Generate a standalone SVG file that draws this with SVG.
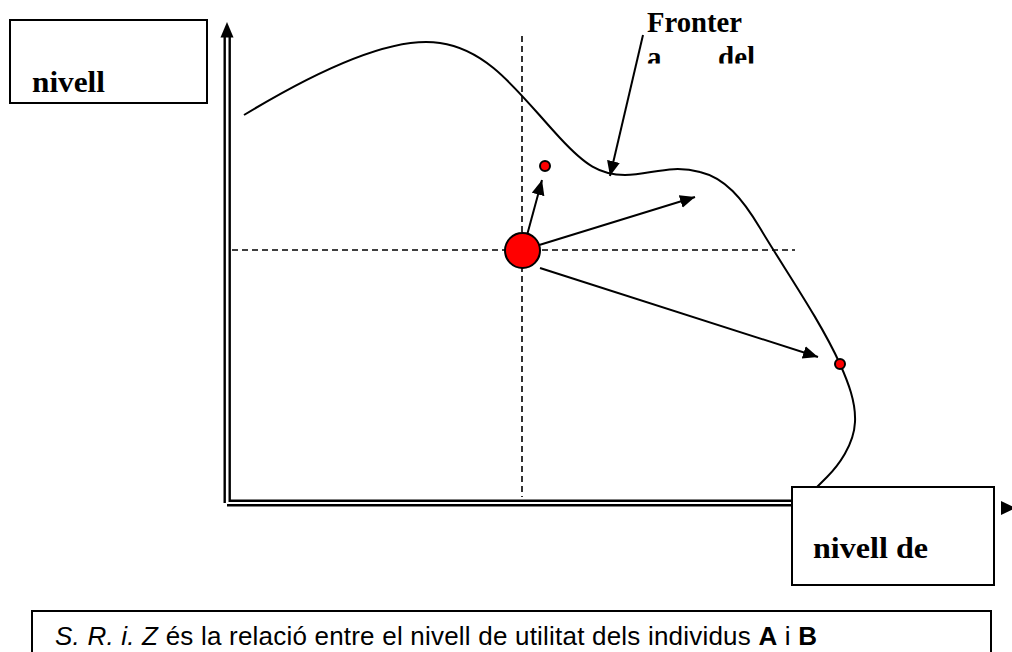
<svg xmlns="http://www.w3.org/2000/svg" width="1012" height="652" viewBox="0 0 1012 652">
<style>
.box{fill:#fff;stroke:#000;stroke-width:2}
.lbl{font-family:"Liberation Serif","Times New Roman",serif;font-weight:bold;font-size:29px;fill:#000}
.dash{stroke:#000;stroke-width:1.6;stroke-dasharray:6,4;fill:none}
.ax{stroke:#000;stroke-width:2.4;fill:none}
.arr{stroke:#000;stroke-width:2;fill:none;marker-end:url(#ah)}
.pt{fill:#ff0000;stroke:#000;stroke-width:2}
.cap{font-family:"Liberation Sans",Arial,sans-serif;font-size:26px;fill:#000}
</style>
<defs>
<marker id="ah" markerUnits="userSpaceOnUse" markerWidth="16" markerHeight="14" refX="15" refY="6.5" orient="auto">
<path d="M0,0 L15,6.5 L0,13 z" fill="#000"/>
</marker>
<clipPath id="clipFr"><rect x="600" y="40" width="200" height="23.5"/></clipPath>
</defs>
<rect width="1012" height="652" fill="#fff"/>

<g id="guides">
<line class="dash" x1="522" y1="36" x2="522" y2="497"/>
<line class="dash" x1="232" y1="250" x2="795" y2="250"/>
</g>

<g id="axes">
<line class="ax" x1="224.7" y1="35" x2="224.7" y2="503"/>
<line class="ax" x1="229.7" y1="35" x2="229.7" y2="502"/>
<line class="ax" x1="229" y1="500.8" x2="795" y2="500.8"/>
<line class="ax" x1="227" y1="505.3" x2="795" y2="505.3"/>
<polygon points="227,22 220.5,37.5 233.5,37.5" fill="#000"/>
<polygon points="1001,501 1001,515 1016,508" fill="#000"/>
</g>

<g id="frontier">
<path d="M244,115 C310,75 390,35 440,43 C490,50 520,95 560,138 C585,165 600,175 625,175 C650,175 670,164 700,172 C725,178 742,198 760,228 C785,270 820,320 840,364 C848,382 856,402 855,422 C854,445 838,466 827,477 C820,484 818,486 817,487" fill="none" stroke="#000" stroke-width="2"/>
</g>

<g id="connectors">
<line class="arr" x1="523" y1="250" x2="542" y2="180"/>
<line class="arr" x1="523" y1="250" x2="695" y2="197"/>
<line class="arr" x1="540" y1="268" x2="818" y2="357"/>
<line class="arr" x1="643" y1="35" x2="610" y2="176"/>
</g>

<g id="point-origin"><circle class="pt" cx="522.5" cy="250.5" r="17.5"/></g>
<g id="point-a"><circle class="pt" cx="545" cy="166" r="5"/></g>
<g id="point-b"><circle class="pt" cx="840" cy="364" r="5"/></g>

<g id="label-y">
<rect class="box" x="10" y="20" width="197" height="83"/>
<text class="lbl" x="32" y="92" textLength="73" lengthAdjust="spacingAndGlyphs">nivell</text>
</g>

<g id="label-frontier">
<text class="lbl" x="647" y="32" textLength="95" lengthAdjust="spacingAndGlyphs">Fronter</text>
<g clip-path="url(#clipFr)">
<text class="lbl" x="647" y="67">a</text>
<text class="lbl" x="718" y="67">del</text>
</g>
</g>

<g id="label-x">
<rect class="box" x="792" y="487" width="202" height="98"/>
<text class="lbl" x="813" y="558" textLength="115" lengthAdjust="spacingAndGlyphs">nivell de</text>
</g>

<g id="caption">
<rect class="box" x="32" y="611" width="959" height="60"/>
<text class="cap" x="55" y="645" textLength="762" lengthAdjust="spacing"><tspan font-style="italic">S. R. i. Z</tspan> és la relació entre el nivell de utilitat dels individus <tspan font-weight="bold">A</tspan> i <tspan font-weight="bold">B</tspan></text>
</g>
</svg>
